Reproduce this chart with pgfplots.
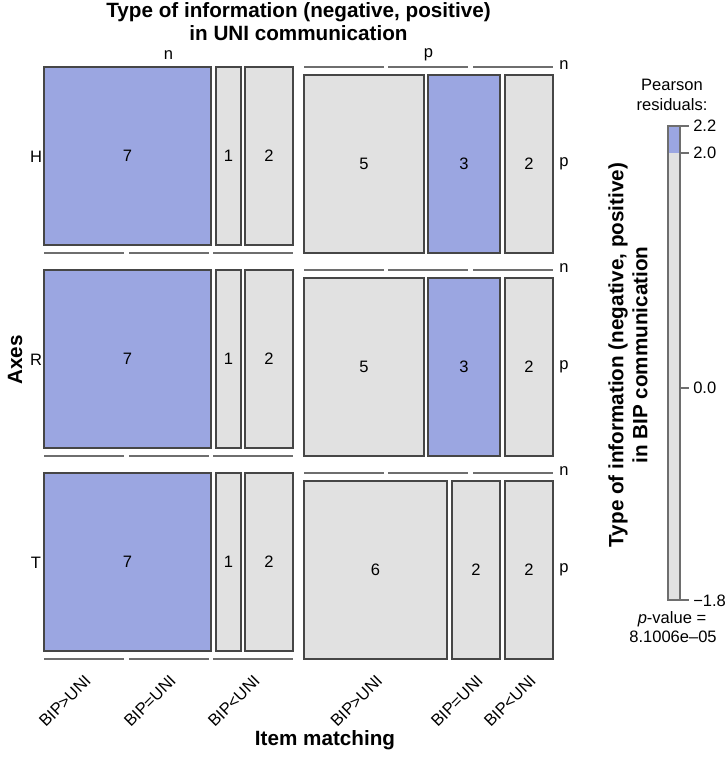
\documentclass[border=0pt]{standalone}
\usepackage{pgfplots}
\pgfplotsset{compat=1.18}
\usepackage{fontspec}
\setmainfont{Liberation Sans}
\definecolor{resblue}{RGB}{155,166,225}
\definecolor{resgray}{RGB}{225,225,225}
\definecolor{bord}{RGB}{70,70,70}
\definecolor{segc}{RGB}{110,110,110}
\newcommand{\rf}{\fontsize{12.4}{15}\selectfont}
\newcommand{\bfs}{\fontsize{15.5}{18}\selectfont\bfseries}
\begin{document}
\begin{tikzpicture}
\begin{axis}[
  scale only axis, width=544.5pt, height=567.75pt,
  xmin=0, xmax=726, ymin=0, ymax=757, y dir=reverse,
  hide axis, clip=false,
  every axis plot/.append style={mark=none},
  cellb/.style={fill=resblue, draw=bord, line width=0.8pt},
  cellg/.style={fill=resgray, draw=bord, line width=0.8pt},
  seg/.style={draw=segc, line width=1.2pt},
]
\addplot[draw=none] coordinates {(0,0) (726,757)};
% ---- row H
\addplot[cellb] coordinates {(44,67)(211,67)(211,245)(44,245)} --cycle;
\addplot[cellg] coordinates {(216,67)(241,67)(241,245)(216,245)} --cycle;
\addplot[cellg] coordinates {(245,67)(293,67)(293,245)(245,245)} --cycle;
\addplot[cellg] coordinates {(304,75)(424,75)(424,253)(304,253)} --cycle;
\addplot[cellb] coordinates {(428,75)(500,75)(500,253)(428,253)} --cycle;
\addplot[cellg] coordinates {(505,75)(553,75)(553,253)(505,253)} --cycle;
% ---- row R
\addplot[cellb] coordinates {(44,270)(211,270)(211,448)(44,448)} --cycle;
\addplot[cellg] coordinates {(216,270)(241,270)(241,448)(216,448)} --cycle;
\addplot[cellg] coordinates {(245,270)(293,270)(293,448)(245,448)} --cycle;
\addplot[cellg] coordinates {(304,278)(424,278)(424,456)(304,456)} --cycle;
\addplot[cellb] coordinates {(428,278)(500,278)(500,456)(428,456)} --cycle;
\addplot[cellg] coordinates {(505,278)(553,278)(553,456)(505,456)} --cycle;
% ---- row T
\addplot[cellb] coordinates {(44,473)(211,473)(211,651)(44,651)} --cycle;
\addplot[cellg] coordinates {(216,473)(241,473)(241,651)(216,651)} --cycle;
\addplot[cellg] coordinates {(245,473)(293,473)(293,651)(245,651)} --cycle;
\addplot[cellg] coordinates {(304,481)(447,481)(447,659)(304,659)} --cycle;
\addplot[cellg] coordinates {(452,481)(500,481)(500,659)(452,659)} --cycle;
\addplot[cellg] coordinates {(505,481)(553,481)(553,659)(505,659)} --cycle;
% ---- zero-count segments
\addplot[seg] coordinates {(44,253)(124,253)};
\addplot[seg] coordinates {(129,253)(209,253)};
\addplot[seg] coordinates {(213,253)(293,253)};
\addplot[seg] coordinates {(44,456)(124,456)};
\addplot[seg] coordinates {(129,456)(209,456)};
\addplot[seg] coordinates {(213,456)(293,456)};
\addplot[seg] coordinates {(44,659)(124,659)};
\addplot[seg] coordinates {(129,659)(209,659)};
\addplot[seg] coordinates {(213,659)(293,659)};
\addplot[seg] coordinates {(304,67)(384,67)};
\addplot[seg] coordinates {(388,67)(468,67)};
\addplot[seg] coordinates {(473,67)(553,67)};
\addplot[seg] coordinates {(304,270)(384,270)};
\addplot[seg] coordinates {(388,270)(468,270)};
\addplot[seg] coordinates {(473,270)(553,270)};
\addplot[seg] coordinates {(304,473)(384,473)};
\addplot[seg] coordinates {(388,473)(468,473)};
\addplot[seg] coordinates {(473,473)(553,473)};
% ---- counts
\addplot[draw=none, nodes near coords, point meta=explicit symbolic,
  every node near coord/.style={anchor=center, text=black, font=\rf, inner sep=0pt}]
  table[meta=lab] {
x y lab
127.5 156 7
228.5 156 1
269 156 2
364 164 5
464 164 3
529 164 2
127.5 359 7
228.5 359 1
269 359 2
364 367 5
464 367 3
529 367 2
127.5 562 7
228.5 562 1
269 562 2
375.5 570 6
476 570 2
529 570 2
};
% ---- colour bar
\addplot[fill=resgray, draw=none] coordinates {(668,153)(680,153)(680,600)(668,600)} --cycle;
\addplot[fill=resblue, draw=none] coordinates {(668,126)(680,126)(680,153)(668,153)} --cycle;
\addplot[draw=segc, line width=0.8pt] coordinates {(668,126)(680,126)(680,600)(668,600)} --cycle;
\addplot[draw=segc, line width=0.8pt] coordinates {(680,126)(689,126)};
\addplot[draw=segc, line width=0.8pt] coordinates {(680,153)(689,153)};
\addplot[draw=segc, line width=0.8pt] coordinates {(680,388)(689,388)};
\addplot[draw=segc, line width=0.8pt] coordinates {(680,600)(689,600)};
% ---- text
\node[font=\bfs] at (axis cs:298.5,12) {Type of information (negative, positive)};
\node[font=\bfs] at (axis cs:298.5,33) {in UNI communication};
\node[font=\rf] at (axis cs:168.5,55) {n};
\node[font=\rf] at (axis cs:428.5,55) {p};
\node[font=\rf] at (axis cs:36,157) {H};
\node[font=\rf] at (axis cs:36,360) {R};
\node[font=\rf] at (axis cs:36,563) {T};
\node[font=\rf] at (axis cs:564,65) {n};
\node[font=\rf] at (axis cs:564,164) {p};
\node[font=\rf] at (axis cs:564,268) {n};
\node[font=\rf] at (axis cs:564,367) {p};
\node[font=\rf] at (axis cs:564,471) {n};
\node[font=\rf] at (axis cs:564,570) {p};
\node[font=\rf, rotate=45, anchor=east, inner sep=0pt] at (axis cs:88,678) {BIP>UNI};
\node[font=\rf, rotate=45, anchor=east, inner sep=0pt] at (axis cs:173,678) {BIP=UNI};
\node[font=\rf, rotate=45, anchor=east, inner sep=0pt] at (axis cs:257,678) {BIP<UNI};
\node[font=\rf, rotate=45, anchor=east, inner sep=0pt] at (axis cs:379.5,678) {BIP>UNI};
\node[font=\rf, rotate=45, anchor=east, inner sep=0pt] at (axis cs:480,678) {BIP=UNI};
\node[font=\rf, rotate=45, anchor=east, inner sep=0pt] at (axis cs:533,678) {BIP<UNI};
\node[font=\bfs] at (axis cs:325,740) {Item matching};
\node[font=\bfs, rotate=90] at (axis cs:15,360) {Axes};
\node[font=\bfs, rotate=90, align=center] at (axis cs:628,355) {Type of information (negative, positive)\\in BIP communication};
\node[font=\rf] at (axis cs:672,85) {Pearson};
\node[font=\rf] at (axis cs:672,105) {residuals:};
\node[font=\rf, anchor=west, inner sep=0pt] at (axis cs:693,126) {2.2};
\node[font=\rf, anchor=west, inner sep=0pt] at (axis cs:693,153) {2.0};
\node[font=\rf, anchor=west, inner sep=0pt] at (axis cs:693,388) {0.0};
\node[font=\rf, anchor=west, inner sep=0pt] at (axis cs:693,601) {−1.8};
\node[font=\rf, inner sep=0pt] at (axis cs:672,619) {\textit{p}-value =};
\node[font=\rf, inner sep=0pt] at (axis cs:673,637) {8.1006e–05};
\coordinate (BL) at (axis cs:0,757);
\coordinate (TR) at (axis cs:726,0);
\end{axis}
\pgfresetboundingbox
\useasboundingbox (BL) rectangle (TR);
\end{tikzpicture}
\end{document}
